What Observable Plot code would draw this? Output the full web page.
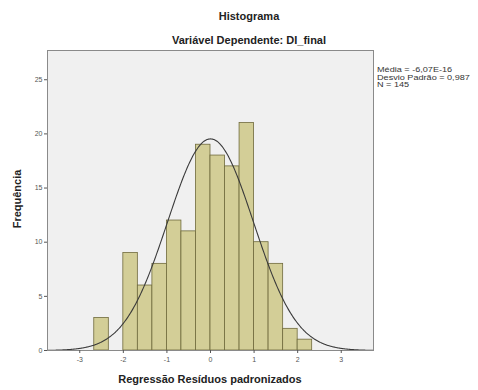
<!DOCTYPE html>
<html>
<head>
<meta charset="utf-8">
<script src="https://cdn.jsdelivr.net/npm/d3@7"></script>
<script src="https://cdn.jsdelivr.net/npm/@observablehq/plot@0.6"></script>
<style>
  html, body { margin: 0; padding: 0; background: #fff; }
  #wrap { position: relative; width: 478px; height: 390px; font-family: "Liberation Sans", Arial, sans-serif; }
  .t { position: absolute; font-weight: bold; color: #222; white-space: nowrap; font-size: 11px; }
  #title { top: 10px; left: 0; width: 498px; text-align: center; }
  #subtitle { top: 34px; left: 0; width: 498px; text-align: center; }
  #xlabel { top: 373px; left: 47px; width: 326px; text-align: center; }
  #ylabel { top: 199px; left: 17px; transform: translate(-50%, -50%) rotate(-90deg); }
  #stats { position: absolute; left: 377px; top: 66px; font-size: 7px; line-height: 7.5px; color: #333; white-space: nowrap; transform: scaleX(1.3); transform-origin: left top; }
</style>
</head>
<body>
<div id="wrap">
  <div id="chart"></div>
  <div class="t" id="title">Histograma</div>
  <div class="t" id="subtitle">Variável Dependente: DI_final</div>
  <div class="t" id="xlabel">Regressão Resíduos padronizados</div>
  <div class="t" id="ylabel">Frequência</div>
  <div id="stats"></div>
</div>
<script>
// Data
const binLow  = [-2.667, -2.333, -2.000, -1.667, -1.333, -1.000, -0.667, -0.333, 0.000, 0.333, 0.667, 1.000, 1.333, 1.667, 2.000];
const binHigh = [-2.333, -2.000, -1.667, -1.333, -1.000, -0.667, -0.333, 0.000, 0.333, 0.667, 1.000, 1.333, 1.667, 2.000, 2.333];
const counts  = [3, 0, 9, 6, 8, 12, 11, 19, 18, 17, 21, 10, 8, 2, 1];
const xTicks = [-3, -2, -1, 0, 1, 2, 3];
const yTicks = [0, 5, 10, 15, 20, 25];
const statLines = ["Média = -6,07E-16", "Desvio Padrão = 0,987", "N = 145"];
const meanVal = 0;
const sdVal = 0.987;
const nVal = 145;
const binWidth = 1 / 3;

const bars = binLow.map((lo, i) => ({x1: lo, x2: binHigh[i], y: counts[i]})).filter(d => d.y > 0);

// Fitted normal curve (from the stated mean, sd and N)
const xs = d3.range(-3.74, 3.7401, 0.02);
const curve = xs.map(x => ({x, y: nVal * binWidth * Math.exp(-0.5 * ((x - meanVal) / sdVal) ** 2) / (sdVal * Math.sqrt(2 * Math.PI))}));

document.getElementById("stats").innerHTML = statLines.join("<br>");

const chart = Plot.plot({
  width: 478,
  height: 390,
  marginLeft: 47,
  marginRight: 105,
  marginTop: 50,
  marginBottom: 40,
  style: {fontFamily: "Liberation Sans, Arial, sans-serif", fontSize: "7px", background: "transparent", color: "#555"},
  x: {domain: [-3.74, 3.74]},
  y: {domain: [0, 27.7]},
  marks: [
    Plot.frame({fill: "#f0f0f0", stroke: "none"}),
    Plot.rectY(bars, {x1: "x1", x2: "x2", y: "y", fill: "#d3ce97", stroke: "#6f6a3c", strokeWidth: 0.8}),
    Plot.line(curve, {x: "x", y: "y", stroke: "#3a3a3a", strokeWidth: 1.1, curve: "monotone-x"}),
    Plot.frame({stroke: "#8a8a8a", strokeWidth: 1}),
    Plot.axisY({ticks: yTicks, tickSize: 3, tickPadding: 2, label: null, tickFormat: d => String(d)}),
    Plot.axisX({ticks: xTicks, tickSize: 3, tickPadding: 4, label: null, tickFormat: d => String(d)})
  ]
});
document.getElementById("chart").appendChild(chart);
</script>
</body>
</html>
